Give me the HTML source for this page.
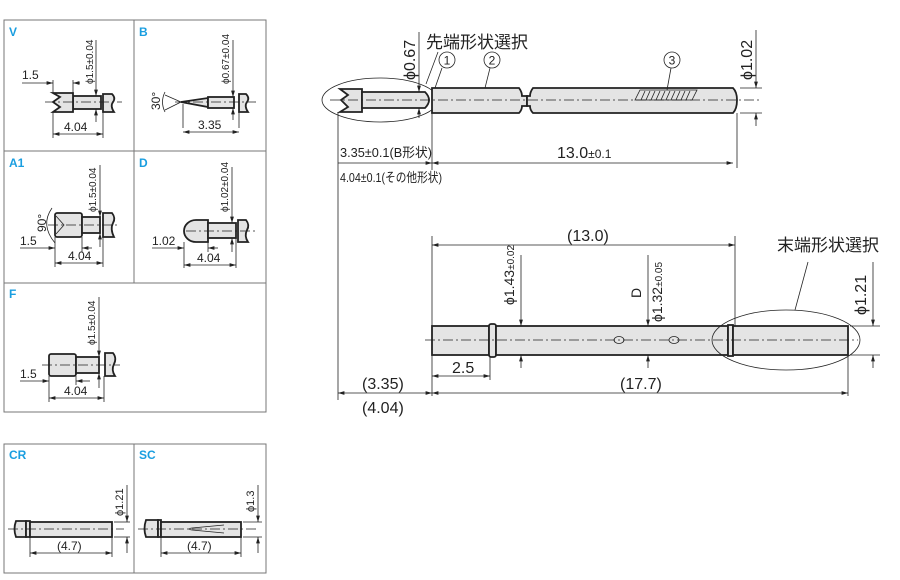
<!DOCTYPE html>
<html><head><meta charset="utf-8"><style>
body{margin:0;background:#fff}
svg{display:block}
text{font-family:"Liberation Sans","Noto Sans CJK JP",sans-serif;fill:#222}
.lb{fill:#1a9ee0;font-weight:bold;font-size:12px}
.o{stroke:#222;stroke-width:1.8;fill:#e4e4e4}
.t{stroke:#222;stroke-width:0.8;fill:none}
.c{stroke:#222;stroke-width:0.8;fill:none;stroke-dasharray:10 3 2 3}
.g{stroke:#777;stroke-width:1;fill:none}
</style></head><body>
<svg width="900" height="580" viewBox="0 0 900 580" xmlns="http://www.w3.org/2000/svg">
<defs><marker id="a" viewBox="0 0 10 6" refX="10" refY="3" markerWidth="8" markerHeight="5" orient="auto-start-reverse"><path d="M0,0L10,3L0,6z" fill="#222"/></marker></defs>

<rect x="4" y="20" width="262" height="392" class="g"/>
<line x1="134" y1="20" x2="134" y2="283" class="g"/>
<line x1="4" y1="151" x2="266" y2="151" class="g"/>
<line x1="4" y1="283" x2="266" y2="283" class="g"/>
<rect x="4" y="444" width="262" height="129" class="g"/>
<line x1="134" y1="444" x2="134" y2="573" class="g"/>

<text x="9" y="36" class="lb">V</text>
<text x="139" y="36" class="lb">B</text>
<text x="9" y="167" class="lb">A1</text>
<text x="139" y="167" class="lb">D</text>
<text x="9" y="298" class="lb">F</text>
<text x="9" y="459" class="lb">CR</text>
<text x="139" y="459" class="lb">SC</text>

<!-- V -->
<rect x="73" y="96" width="28" height="13" class="o"/>
<path d="M53,93H73V112H53L60,107L53,102L60,97Z" class="o"/>
<path d="M103,94H112Q116,98 113,102Q110,106 114,112H103Z" class="o"/>
<line x1="45" y1="102" x2="122" y2="102" class="c"/>
<line x1="53" y1="112" x2="53" y2="138" class="t"/><line x1="103" y1="112" x2="103" y2="138" class="t"/>
<line x1="53" y1="134" x2="103" y2="134" class="t" marker-start="url(#a)" marker-end="url(#a)"/>
<text x="64" y="131" font-size="12">4.04</text>
<text x="22" y="79" font-size="12">1.5</text>
<line x1="22" y1="83" x2="53" y2="83" class="t" marker-end="url(#a)"/><line x1="73" y1="83" x2="80" y2="83" class="t" marker-start="url(#a)"/>
<line x1="53" y1="80" x2="53" y2="93" class="t"/><line x1="73" y1="80" x2="73" y2="93" class="t"/>
<line x1="96" y1="40" x2="96" y2="96" class="t" marker-end="url(#a)"/><line x1="96" y1="109" x2="96" y2="122" class="t" marker-start="url(#a)"/>
<text transform="translate(93,84) rotate(-90)" font-size="10">ϕ1.5±0.04</text>

<!-- B -->
<path d="M181,102L208,98V107Z" class="o"/>
<rect x="208" y="97" width="26" height="11" class="o"/>
<path d="M239,94H246Q250,98 247,102Q244,106 248,112H239Z" class="o"/>
<line x1="175" y1="102" x2="256" y2="102" class="c"/>
<path d="M165,95L181,102L165,110M165,92Q160,102 165,112" class="t"/>
<text transform="translate(160,110) rotate(-90)" font-size="12">30°</text>
<line x1="183" y1="104" x2="183" y2="128" class="t"/><line x1="239" y1="112" x2="239" y2="128" class="t"/>
<line x1="183" y1="132" x2="239" y2="132" class="t" marker-start="url(#a)" marker-end="url(#a)"/>
<text x="198" y="129" font-size="12">3.35</text>
<line x1="233" y1="40" x2="233" y2="97" class="t" marker-end="url(#a)"/><line x1="233" y1="108" x2="233" y2="120" class="t" marker-start="url(#a)"/>
<text transform="translate(229,84) rotate(-90)" font-size="10">ϕ0.67±0.04</text>

<!-- A1 -->
<rect x="55" y="213" width="27" height="24" rx="2" class="o"/>
<rect x="82" y="217" width="18" height="16" class="o"/>
<path d="M103,213H112Q116,218 113,223Q110,229 114,237H103Z" class="o"/>
<path d="M56,216L64,225L56,234" class="t"/>
<line x1="48" y1="225" x2="120" y2="225" class="c"/>
<path d="M52,208Q40,225 55,243" class="t"/>
<text transform="translate(46,232) rotate(-90)" font-size="12">90°</text>
<text x="20" y="245" font-size="12">1.5</text>
<line x1="20" y1="248" x2="55" y2="248" class="t" marker-end="url(#a)"/><line x1="82" y1="248" x2="92" y2="248" class="t" marker-start="url(#a)"/>
<line x1="55" y1="237" x2="55" y2="267" class="t"/><line x1="82" y1="237" x2="82" y2="252" class="t"/><line x1="103" y1="237" x2="103" y2="267" class="t"/>
<line x1="55" y1="263" x2="103" y2="263" class="t" marker-start="url(#a)" marker-end="url(#a)"/>
<text x="68" y="260" font-size="12">4.04</text>
<line x1="100" y1="165" x2="100" y2="217" class="t" marker-end="url(#a)"/><line x1="100" y1="233" x2="100" y2="247" class="t" marker-start="url(#a)"/>
<text transform="translate(96,212) rotate(-90)" font-size="10">ϕ1.5±0.04</text>

<!-- D -->
<path d="M208,220H196A12,11 0 0 0 196,242H208Z" class="o"/>
<rect x="208" y="223" width="28" height="15" class="o"/>
<path d="M238,220H246Q250,225 247,230Q244,236 248,242H238Z" class="o"/>
<line x1="186" y1="231" x2="256" y2="231" class="c"/>
<text x="152" y="245" font-size="12">1.02</text>
<line x1="152" y1="248" x2="184" y2="248" class="t" marker-end="url(#a)"/><line x1="208" y1="248" x2="218" y2="248" class="t" marker-start="url(#a)"/>
<line x1="184" y1="242" x2="184" y2="268" class="t"/><line x1="208" y1="242" x2="208" y2="252" class="t"/><line x1="236" y1="238" x2="236" y2="268" class="t"/>
<line x1="184" y1="265" x2="236" y2="265" class="t" marker-start="url(#a)" marker-end="url(#a)"/>
<text x="197" y="262" font-size="12">4.04</text>
<line x1="232" y1="167" x2="232" y2="223" class="t" marker-end="url(#a)"/><line x1="232" y1="238" x2="232" y2="252" class="t" marker-start="url(#a)"/>
<text transform="translate(228,212) rotate(-90)" font-size="10">ϕ1.02±0.04</text>

<!-- F -->
<rect x="49" y="354" width="27" height="22" rx="2" class="o"/>
<rect x="76" y="357" width="23" height="16" class="o"/>
<path d="M105,353H113Q117,358 114,364Q111,370 115,376H105Z" class="o"/>
<line x1="42" y1="365" x2="120" y2="365" class="c"/>
<text x="20" y="378" font-size="12">1.5</text>
<line x1="20" y1="381" x2="49" y2="381" class="t" marker-end="url(#a)"/><line x1="76" y1="381" x2="90" y2="381" class="t" marker-start="url(#a)"/>
<line x1="49" y1="376" x2="49" y2="402" class="t"/><line x1="76" y1="376" x2="76" y2="385" class="t"/><line x1="104" y1="376" x2="104" y2="402" class="t"/>
<line x1="49" y1="398" x2="104" y2="398" class="t" marker-start="url(#a)" marker-end="url(#a)"/>
<text x="64" y="395" font-size="12">4.04</text>
<line x1="99" y1="297" x2="99" y2="357" class="t" marker-end="url(#a)"/><line x1="99" y1="373" x2="99" y2="388" class="t" marker-start="url(#a)"/>
<text transform="translate(95,345) rotate(-90)" font-size="10">ϕ1.5±0.04</text>

<!-- CR -->
<path d="M16,521H26V537H16Q13,529 16,521Z" class="o"/>
<rect x="26" y="521" width="4" height="16" class="o"/>
<rect x="30" y="522" width="82" height="15" class="o"/>
<line x1="8" y1="529" x2="124" y2="529" class="c"/>
<line x1="30" y1="537" x2="30" y2="557" class="t"/><line x1="112" y1="537" x2="112" y2="557" class="t"/>
<line x1="30" y1="553" x2="112" y2="553" class="t" marker-start="url(#a)" marker-end="url(#a)"/>
<text x="57" y="550" font-size="12">(4.7)</text>
<line x1="114" y1="522" x2="130" y2="522" class="t"/><line x1="114" y1="537" x2="130" y2="537" class="t"/>
<line x1="127" y1="485" x2="127" y2="522" class="t" marker-end="url(#a)"/><line x1="127" y1="537" x2="127" y2="553" class="t" marker-start="url(#a)"/>
<text transform="translate(123,516) rotate(-90)" font-size="11">ϕ1.21</text>

<!-- SC -->
<path d="M146,520H158V537H146Q143,529 146,520Z" class="o"/>
<rect x="158" y="520" width="3" height="17" class="o"/>
<rect x="161" y="522" width="80" height="15" class="o"/>
<path d="M224,525L192,528Q186,529 192,530L224,533" class="t"/>
<line x1="138" y1="529" x2="256" y2="529" class="c"/>
<line x1="161" y1="537" x2="161" y2="557" class="t"/><line x1="241" y1="537" x2="241" y2="557" class="t"/>
<line x1="161" y1="553" x2="241" y2="553" class="t" marker-start="url(#a)" marker-end="url(#a)"/>
<text x="187" y="550" font-size="12">(4.7)</text>
<line x1="243" y1="522" x2="262" y2="522" class="t"/><line x1="243" y1="537" x2="262" y2="537" class="t"/>
<line x1="258" y1="485" x2="258" y2="522" class="t" marker-end="url(#a)"/><line x1="258" y1="537" x2="258" y2="553" class="t" marker-start="url(#a)"/>
<text transform="translate(254,512) rotate(-90)" font-size="11">ϕ1.3</text>

<!-- MAIN TOP -->
<ellipse cx="380" cy="100" rx="58" ry="22" class="t"/>
<path d="M340,89H362V112H340L348,107L341,100L348,95Z" class="o"/>
<path d="M362,92H425Q433,100 425,108H362Z" class="o"/>
<path d="M432,88H519Q522,92 522,96H527V106H522Q522,110 519,113H432Z" class="o"/>
<path d="M527,96H530Q530,92 533,88H733Q737,92 737,100Q737,109 733,113H533Q530,110 530,106H527Z" class="o"/>
<path d="M640,90H697L692,100H635Z" class="t"/>
<g class="t"><path d="M641,100L645,91M646,100L650,91M651,100L655,91M656,100L660,91M661,100L665,91M666,100L670,91M671,100L675,91M676,100L680,91M681,100L685,91M686,100L690,91"/></g>
<line x1="330" y1="100" x2="760" y2="100" class="c"/>
<text x="426" y="48" font-size="17">先端形状選択</text>
<line x1="419" y1="32" x2="419" y2="92" class="t" marker-end="url(#a)"/><line x1="419" y1="108" x2="419" y2="118" class="t" marker-start="url(#a)"/>
<text transform="translate(415,80) rotate(-90)" font-size="16">ϕ0.67</text>
<path d="M426,84L438,52" class="t"/>
<circle cx="447" cy="60" r="8" class="t"/><text x="447" y="64.5" font-size="12" text-anchor="middle">1</text>
<path d="M435,88L442,68" class="t"/>
<circle cx="492" cy="60" r="8" class="t"/><text x="492" y="64.5" font-size="12" text-anchor="middle">2</text>
<path d="M485,88L490,68" class="t"/>
<circle cx="672" cy="60" r="8" class="t"/><text x="672" y="64.5" font-size="12" text-anchor="middle">3</text>
<path d="M667,90L671,68" class="t"/>
<line x1="740" y1="88" x2="762" y2="88" class="t"/><line x1="740" y1="113" x2="762" y2="113" class="t"/>
<line x1="756" y1="30" x2="756" y2="88" class="t" marker-end="url(#a)"/><line x1="756" y1="113" x2="756" y2="126" class="t" marker-start="url(#a)"/>
<text transform="translate(752,80) rotate(-90)" font-size="16">ϕ1.02</text>
<line x1="338" y1="112" x2="338" y2="400" class="t"/>
<line x1="432" y1="113" x2="432" y2="170" class="t"/><line x1="737" y1="113" x2="737" y2="168" class="t"/>
<line x1="338" y1="163" x2="432" y2="163" class="t" marker-end="url(#a)"/>
<line x1="432" y1="163" x2="733" y2="163" class="t" marker-start="url(#a)" marker-end="url(#a)"/>
<text x="340" y="157" font-size="13" textLength="92" lengthAdjust="spacingAndGlyphs">3.35±0.1(B形状)</text>
<text x="340" y="182" font-size="13" textLength="102" lengthAdjust="spacingAndGlyphs">4.04±0.1(その他形状)</text>
<text x="557" y="158" font-size="16">13.0<tspan font-size="12">±0.1</tspan></text>

<!-- MAIN BOTTOM -->
<rect x="432" y="326" width="57" height="29" class="o"/>
<rect x="489" y="324" width="7" height="33" rx="2" class="o"/>
<rect x="496" y="326" width="232" height="29" class="o"/>
<rect x="728" y="325" width="5" height="31" class="o"/>
<rect x="733" y="326" width="115" height="29" class="o"/>
<ellipse cx="619" cy="340" rx="5" ry="3.5" class="t"/><ellipse cx="674" cy="340" rx="5" ry="3.5" class="t"/>
<line x1="425" y1="340" x2="858" y2="340" class="c"/>
<ellipse cx="786" cy="340" rx="74" ry="30" class="t"/>
<text x="777" y="251" font-size="17">末端形状選択</text>
<line x1="808" y1="262" x2="795" y2="310" class="t"/>
<line x1="432" y1="236" x2="432" y2="326" class="t"/><line x1="735" y1="236" x2="735" y2="326" class="t"/>
<line x1="432" y1="245" x2="735" y2="245" class="t" marker-start="url(#a)" marker-end="url(#a)"/>
<text x="567" y="241" font-size="16">(13.0)</text>
<line x1="521" y1="255" x2="521" y2="326" class="t" marker-end="url(#a)"/><line x1="521" y1="355" x2="521" y2="368" class="t" marker-start="url(#a)"/>
<text transform="translate(514,305) rotate(-90)" font-size="14">ϕ1.43<tspan font-size="10">±0.02</tspan></text>
<line x1="648" y1="255" x2="648" y2="326" class="t" marker-end="url(#a)"/><line x1="648" y1="355" x2="648" y2="368" class="t" marker-start="url(#a)"/>
<text transform="translate(641,298) rotate(-90)" font-size="14">D</text>
<text transform="translate(662,322) rotate(-90)" font-size="14">ϕ1.32<tspan font-size="10">±0.05</tspan></text>
<line x1="850" y1="326" x2="880" y2="326" class="t"/><line x1="850" y1="355" x2="880" y2="355" class="t"/>
<line x1="873" y1="262" x2="873" y2="326" class="t" marker-end="url(#a)"/><line x1="873" y1="355" x2="873" y2="368" class="t" marker-start="url(#a)"/>
<text transform="translate(866,315) rotate(-90)" font-size="16">ϕ1.21</text>
<line x1="432" y1="355" x2="432" y2="396" class="t"/><line x1="490" y1="357" x2="490" y2="380" class="t"/><line x1="848" y1="355" x2="848" y2="396" class="t"/>
<line x1="432" y1="376" x2="490" y2="376" class="t" marker-start="url(#a)" marker-end="url(#a)"/>
<text x="452" y="373" font-size="16">2.5</text>
<line x1="432" y1="393" x2="848" y2="393" class="t" marker-start="url(#a)" marker-end="url(#a)"/>
<text x="620" y="389" font-size="16">(17.7)</text>
<line x1="338" y1="393" x2="432" y2="393" class="t" marker-start="url(#a)" marker-end="url(#a)"/>
<text x="362" y="389" font-size="16">(3.35)</text>
<text x="362" y="413" font-size="16">(4.04)</text>
</svg>
</body></html>
